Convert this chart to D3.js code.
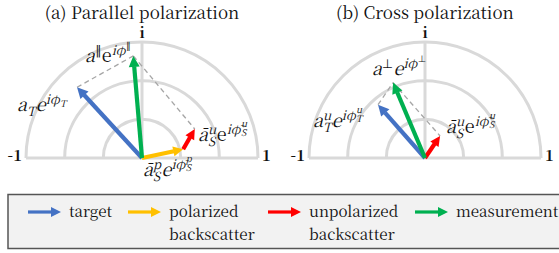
<!DOCTYPE html>
<html>
<head>
<meta charset="utf-8">
<script src="https://cdn.jsdelivr.net/npm/d3@7"></script>
<style>
  html, body { margin: 0; padding: 0; background: #ffffff; }
  svg { display: block; }
  text { font-family: "Noto Serif CJK SC", serif; }
  text.sym { font-family: "DejaVu Sans", sans-serif; }
</style>
</head>
<body>
<svg id="chart" width="559" height="253"></svg>
<script>
// ---------------- data ----------------
const panelTitles = ["(a) Parallel polarization", "(b) Cross polarization"];
const axisTickLabels = ["-1", "1", "i"];
const ringLevels = [1 / 3, 2 / 3, 1];

const parallelTarget = [-0.56, 0.61];
const parallelPolarized = [0.355, 0.075];       // from origin
const parallelUnpolarizedTip = [0.455, 0.25];   // red arrow ends here (starts at yellow tip)
const parallelMeasurement = [-0.075, 0.88];

const crossTarget = [-0.405, 0.46];
const crossUnpolarized = [0.13, 0.19];
const crossMeasurement = [-0.275, 0.65];

const legendLabels = [["target"], ["polarized", "backscatter"], ["unpolarized", "backscatter"], ["measurement"]];
const legendColors = ["#4472C4", "#FFC000", "#FF0000", "#00B050"];

// ---------------- drawing ----------------
const svg = d3.select("#chart");
const R = 116;
const centers = [[142, 158], [425, 158]];

function makeScales(c) {
  return {
    x: d3.scaleLinear().domain([-1, 1]).range([c[0] - R, c[0] + R]),
    y: d3.scaleLinear().domain([0, 1]).range([c[1], c[1] - R])
  };
}

function arrow(g, x1, y1, x2, y2, color, width, headLen, headW) {
  const dx = x2 - x1, dy = y2 - y1, L = Math.hypot(dx, dy);
  const ux = dx / L, uy = dy / L;
  const bx = x2 - ux * headLen, by = y2 - uy * headLen;
  g.append("line").attr("x1", x1).attr("y1", y1)
    .attr("x2", bx + ux * 0.5).attr("y2", by + uy * 0.5)
    .attr("stroke", color).attr("stroke-width", width);
  const px = -uy, py = ux;
  g.append("path")
    .attr("d", `M${x2},${y2}L${bx + px * headW / 2},${by + py * headW / 2}L${bx - px * headW / 2},${by - py * headW / 2}Z`)
    .attr("fill", color);
}

function dashed(g, s, a, b) {
  g.append("line")
    .attr("x1", s.x(a[0])).attr("y1", s.y(a[1]))
    .attr("x2", s.x(b[0])).attr("y2", s.y(b[1]))
    .attr("stroke", "#A6A6A6").attr("stroke-width", 1.3)
    .attr("stroke-dasharray", "5,3.5");
}

function drawFrame(i) {
  const c = centers[i];
  const s = makeScales(c);
  const g = svg.append("g");
  const arc = d3.arc();
  ringLevels.forEach(r => {
    g.append("path")
      .attr("transform", `translate(${c[0]},${c[1]})`)
      .attr("d", arc({ innerRadius: r * R, outerRadius: r * R, startAngle: -Math.PI / 2, endAngle: Math.PI / 2 }))
      .attr("fill", "none").attr("stroke", "#D9D9D9").attr("stroke-width", 3);
  });
  g.append("line").attr("x1", s.x(-1)).attr("x2", s.x(1)).attr("y1", s.y(0)).attr("y2", s.y(0))
    .attr("stroke", "#D9D9D9").attr("stroke-width", 3);
  g.append("line").attr("x1", s.x(0)).attr("x2", s.x(0)).attr("y1", s.y(0)).attr("y2", s.y(1))
    .attr("stroke", "#D9D9D9").attr("stroke-width", 3);

  g.append("text").attr("x", c[0]).attr("y", 18.5).attr("text-anchor", "middle")
    .style("font-size", "17px").attr("fill", "#111").text(panelTitles[i]);

  const ticks = [
    [s.x(-1) - 4, s.y(0) + 3, "end"],
    [s.x(1) + 4, s.y(0) + 3, "start"],
    [s.x(0), s.y(1) - 4, "middle"]
  ];
  ticks.forEach(([x, y, a], k) => {
    g.append("text").attr("x", x).attr("y", y).attr("text-anchor", a)
      .style("font-size", "15px").style("font-weight", "bold").attr("fill", "#111").text(axisTickLabels[k]);
  });
  return { g, s };
}

// math label builder: parts = [text, role, italic, symbolFont]
function mathLabel(x, y, parts, size) {
  const g = svg.append("g");
  let cx = 0;
  const place = (txt, dy, fs, it, sym) => {
    const t = g.append("text").attr("x", cx).attr("y", dy)
      .style("font-size", fs + "px")
      .style("font-style", it ? "italic" : "normal").attr("fill", "#111").text(txt);
    if (sym) t.attr("class", "sym");
    return t.node().getComputedTextLength();
  };
  const sup = size * 0.7, sup2 = size * 0.52;
  parts.forEach(([txt, role, it, sym]) => {
    if (role === "b") cx += place(txt, 0, size, it, sym);
    else if (role === "p") cx += place(txt, -size * 0.4, sup, it, sym) + 0.5;
    else if (role === "q") cx += place(txt, size * 0.25, sup, it, sym) + 0.5;
    else if (role === "ps") {
      const [a, b] = txt.split("|");
      const w1 = place(a, -size * 0.4, sup, it, sym);
      const w2 = place(b, size * 0.28, sup, it, sym);
      cx += Math.max(w1, w2) + 0.5;
    } else if (role === "pp") cx += place(txt, -size * 0.72, sup2, it, sym);
    else if (role === "pq") cx += place(txt, -size * 0.25, sup2, it, sym);
    else if (role === "pps") {
      const [a, b] = txt.split("|");
      const w1 = place(a, -size * 0.78, sup2, it, sym);
      const w2 = place(b, -size * 0.26, sup2, it, sym);
      cx += Math.max(w1, w2);
    }
  });
  g.attr("transform", `translate(${x},${y})`);
}

const MS = 18;
// ---- panel a ----
{
  const { g, s } = drawFrame(0);
  dashed(g, s, parallelTarget, parallelMeasurement);
  dashed(g, s, parallelMeasurement, parallelUnpolarizedTip);
  arrow(g, s.x(0), s.y(0), s.x(parallelTarget[0]), s.y(parallelTarget[1]), legendColors[0], 4.2, 11, 11);
  arrow(g, s.x(0), s.y(0), s.x(parallelPolarized[0]), s.y(parallelPolarized[1]), legendColors[1], 4.2, 10, 10);
  arrow(g, s.x(parallelPolarized[0]), s.y(parallelPolarized[1]), s.x(parallelUnpolarizedTip[0]), s.y(parallelUnpolarizedTip[1]), legendColors[2], 4.2, 10, 10);
  arrow(g, s.x(0), s.y(0), s.x(parallelMeasurement[0]), s.y(parallelMeasurement[1]), legendColors[3], 4.2, 11, 11);

  mathLabel(85, 62, [["a", "b", true], ["\u2225", "p", false, true], ["e", "b", false], ["iφ", "p", true], ["\u2225", "pp", false, true]], MS);
  mathLabel(17, 111, [["a", "b", true], ["T", "q", true], ["e", "b", true], ["iφ", "p", true], ["T", "pq", true]], MS);
  mathLabel(198, 141, [["ā", "b", true], ["u|S", "ps", true], ["e", "b", false], ["iφ̄", "p", true], ["u|S", "pps", true]], MS);
  mathLabel(143, 176, [["ā", "b", true], ["p|S", "ps", true], ["e", "b", true], ["iφ̄", "p", true], ["p|S", "pps", true]], MS);
}
// ---- panel b ----
{
  const { g, s } = drawFrame(1);
  dashed(g, s, crossTarget, crossMeasurement);
  dashed(g, s, crossMeasurement, crossUnpolarized);
  arrow(g, s.x(0), s.y(0), s.x(crossTarget[0]), s.y(crossTarget[1]), legendColors[0], 4.2, 11, 11);
  arrow(g, s.x(0), s.y(0), s.x(crossUnpolarized[0]), s.y(crossUnpolarized[1]), legendColors[2], 4.2, 10, 10);
  arrow(g, s.x(0), s.y(0), s.x(crossMeasurement[0]), s.y(crossMeasurement[1]), legendColors[3], 4.2, 11, 11);

  mathLabel(372, 75, [["a", "b", true], ["\u22A5", "p", false, true], ["e", "b", true], ["iφ", "p", true], ["\u22A5", "pp", false, true]], MS);
  mathLabel(313, 127, [["a", "b", true], ["u|T", "ps", true], ["e", "b", true], ["iφ", "p", true], ["u|T", "pps", true]], MS);
  mathLabel(446, 133, [["ā", "b", true], ["u|S", "ps", true], ["e", "b", false], ["iφ̄", "p", true], ["u|S", "pps", true]], MS);
}

// ---- legend ----
{
  const lg = svg.append("g");
  lg.append("rect").attr("x", 8).attr("y", 194.5).attr("width", 560).attr("height", 54)
    .attr("fill", "#F2F2F2").attr("stroke", "#555").attr("stroke-width", 1.5);
  const itemX = [28, 128, 268, 415];
  legendLabels.forEach((lines, i) => {
    arrow(lg, itemX[i], 212, itemX[i] + 33, 212, legendColors[i], 3.2, 10, 10);
    const t = lg.append("text").attr("x", itemX[i] + 41).attr("y", 217)
      .style("font-size", "15.2px").attr("fill", "#111");
    lines.forEach((ln, j) => t.append("tspan").attr("x", itemX[i] + 41).attr("dy", j === 0 ? 0 : 23).text(ln));
  });
}
</script>
</body>
</html>
